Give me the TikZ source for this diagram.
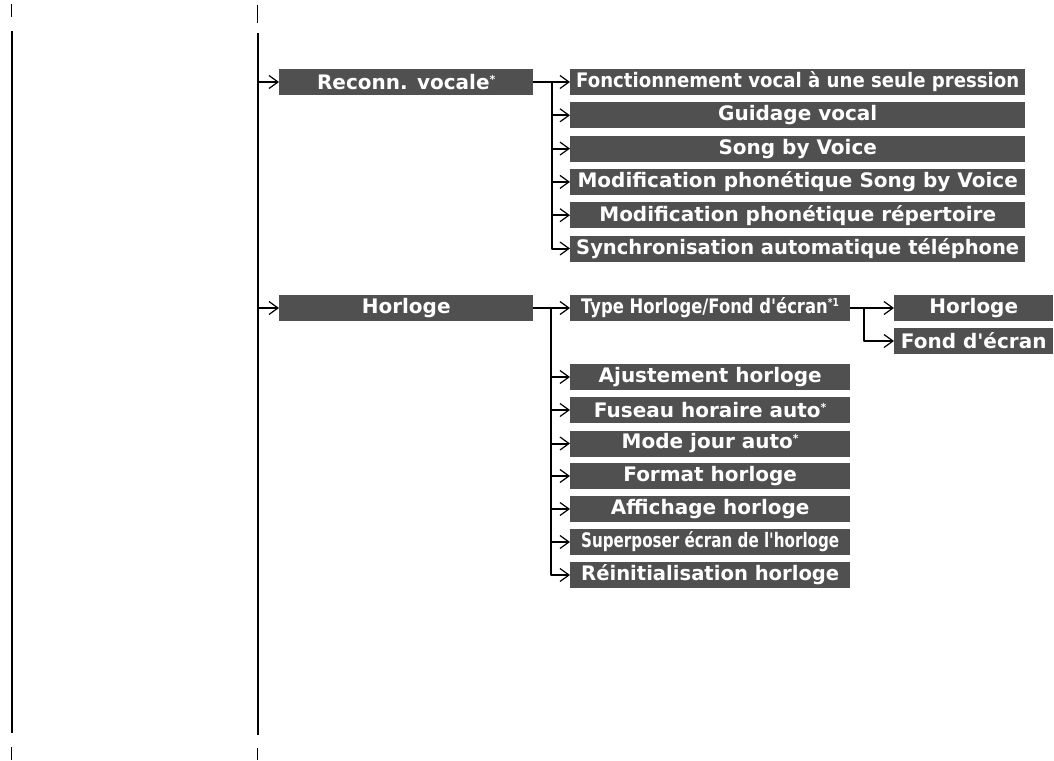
\documentclass[tikz,border=0pt]{standalone}
\usepackage{fontspec}
\setmainfont{DejaVu Sans}
\usetikzlibrary{arrows.meta}
\definecolor{boxgray}{RGB}{80,80,80}
\newcommand\maxw{240pt}
\newcommand\fitlbl[1]{\sbox0{#1}\ifdim\wd0>\maxw\relax\resizebox{\maxw}{\height}{\usebox0}\else\usebox0\fi}
\newcommand\stern{\raisebox{0.55ex}{\fontsize{11}{11}\selectfont *}}
\tikzset{
	menubox/.style={fill=boxgray, text=white, font=\bfseries\fontsize{20}{20}\selectfont, minimum height=26pt, inner sep=0pt, anchor=west},
	colA/.style={menubox, minimum width=254pt, execute at begin node={\renewcommand\maxw{240pt}}},
	colB/.style={menubox, minimum width=455pt, execute at begin node={\renewcommand\maxw{443pt}}},
	colC/.style={menubox, minimum width=280pt, execute at begin node={\renewcommand\maxw{258pt}}},
	colD/.style={menubox, minimum width=159pt, execute at begin node={\renewcommand\maxw{148pt}}},
	link/.style={line width=2pt, -{Straight Barb[length=9pt, width=13pt, line width=1.2pt]}},
	rule/.style={line width=2pt}
}
\begin{document}
\begin{tikzpicture}[x=1pt, y=-1pt, line join=round]
				\useasboundingbox (0,0) rectangle (1054,760);
				\draw[line width=1.5pt] (11.7,4) -- (11.7,17);
				\draw[line width=1.5pt] (257.7,5) -- (257.7,23);
				\draw[line width=1.5pt] (11.7,747) -- (11.7,760);
				\draw[line width=1.5pt] (257.7,748) -- (257.7,760);
				\draw[rule] (11.7,31) -- (11.7,733);
				\coordinate (top) at (257.7,33);
				\coordinate (bot) at (257.7,735);
				\draw[rule] (top) -- (bot);
				\node[colA] (reco) at (279,82) {\fitlbl{Reconn. vocale\stern}};
				\node[colA] (horl) at (279,308) {\fitlbl{Horloge}};
				\node[colB] (f1) at (570,82) {\fitlbl{Fonctionnement vocal à une seule pression}};
				\node[colB] (f2) at (570,115.3) {\fitlbl{Guidage vocal}};
				\node[colB] (f3) at (570,148.6) {\fitlbl{Song by Voice}};
				\node[colB] (f4) at (570,181.9) {\fitlbl{Modification phonétique Song by Voice}};
				\node[colB] (f5) at (570,215.2) {\fitlbl{Modification phonétique répertoire}};
				\node[colB] (f6) at (570,248.5) {\fitlbl{Synchronisation automatique téléphone}};
				\node[colC] (h1) at (570,308) {\fitlbl{Type Horloge/Fond d\textquotesingle écran\textsuperscript{\fontsize{11}{11}\selectfont *1}}};
				\node[colC] (h2) at (570,377) {\fitlbl{Ajustement horloge}};
				\node[colC] (h3) at (570,410) {\fitlbl{Fuseau horaire auto\stern}};
				\node[colC] (h4) at (570,443.5) {\fitlbl{Mode jour auto\stern}};
				\node[colC] (h5) at (570,476) {\fitlbl{Format horloge}};
				\node[colC] (h6) at (570,509) {\fitlbl{Affichage horloge}};
				\node[colC] (h7) at (570,542) {\fitlbl{Superposer écran de l\textquotesingle horloge}};
				\node[colC] (h8) at (570,575) {\fitlbl{Réinitialisation horloge}};
				\node[colD] (t1) at (894,308) {\fitlbl{Horloge}};
				\node[colD] (t2) at (894,341) {\fitlbl{Fond d\textquotesingle écran}};
				\draw[link] (top |- reco) -- (reco.west);
				\draw[link] (top |- horl) -- (horl.west);
				\coordinate (ja) at (552,82);
				\coordinate (jb) at (551,308);
				\coordinate (jc) at (864,308);
				\draw[link] (reco.east) -- (f1.west);
				\draw[link] (ja) |- (f2.west);
				\draw[link] (ja) |- (f3.west);
				\draw[link] (ja) |- (f4.west);
				\draw[link] (ja) |- (f5.west);
				\draw[link] (ja) |- (f6.west);
				\draw[link] (horl.east) -- (h1.west);
				\draw[link] (jb) |- (h2.west);
				\draw[link] (jb) |- (h3.west);
				\draw[link] (jb) |- (h4.west);
				\draw[link] (jb) |- (h5.west);
				\draw[link] (jb) |- (h6.west);
				\draw[link] (jb) |- (h7.west);
				\draw[link] (jb) |- (h8.west);
				\draw[link] (h1.east) -- (t1.west);
				\draw[link] (jc) |- (t2.west);
			\end{tikzpicture}
\end{document}
